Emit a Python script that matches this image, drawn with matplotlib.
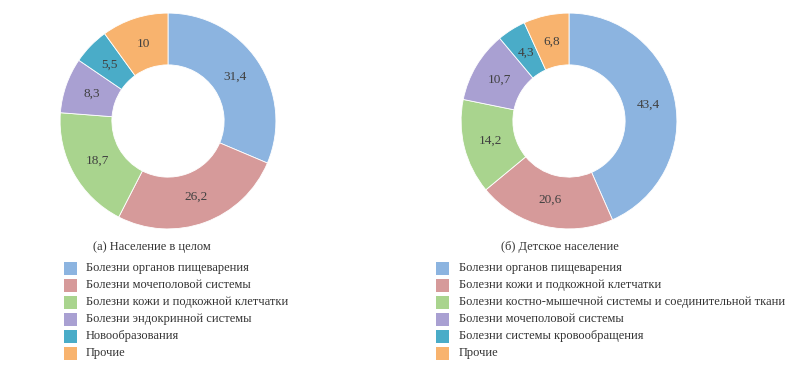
import matplotlib.pyplot as plt
from matplotlib.patches import Rectangle

plt.rcParams['font.family'] = ['Liberation Serif', 'DejaVu Serif']

colors = ['#8cb4e0', '#d69a9a', '#a9d48e', '#a9a0d2', '#4aacc8', '#f8b36e']

# (а) Население в целом
values_a = [31.4, 26.2, 18.7, 8.3, 5.5, 10]
labels_a = ['Болезни органов пищеварения',
            'Болезни мочеполовой системы',
            'Болезни кожи и подкожной клетчатки',
            'Болезни эндокринной системы',
            'Новообразования',
            'Прочие']
title_a = '(а) Население в целом'

# (б) Детское население
values_b = [43.4, 20.6, 14.2, 10.7, 4.3, 6.8]
labels_b = ['Болезни органов пищеварения',
            'Болезни кожи и подкожной клетчатки',
            'Болезни костно-мышечной системы и соединительной ткани',
            'Болезни мочеполовой системы',
            'Болезни системы кровообращения',
            'Прочие']
title_b = '(б) Детское население'

W, H = 800, 365
fig = plt.figure(figsize=(8, 3.65), dpi=100)


def fmt(v):
    return ('%g' % v).replace('.', ',')


def donut(cx, cy, r, vals, title, title_x, labels, patch_x, text_x):
    ax = fig.add_axes([(cx - r) / W, (H - cy - r) / H, 2 * r / W, 2 * r / H])
    ax.pie(vals, colors=colors, startangle=90, counterclock=False,
           radius=1, labels=[fmt(v) for v in vals], labeldistance=0.75,
           textprops=dict(color='#404040', fontsize=9.5, ha='center', va='center'),
           wedgeprops=dict(width=0.48, edgecolor='white', linewidth=0.6))
    ax.set_xlim(-1.01, 1.01)
    ax.set_ylim(-1.01, 1.01)
    ax.set_aspect('equal')
    ax.axis('off')
    fig.text(title_x / W, 1 - 247 / H, title, ha='center', va='center',
             fontsize=9, color='#333333')
    for i, lab in enumerate(labels):
        y = 268 + i * 17
        fig.add_artist(Rectangle((patch_x / W, 1 - (y + 6.5) / H), 13 / W, 13 / H,
                                 transform=fig.transFigure, color=colors[i], lw=0))
        fig.text(text_x / W, 1 - y / H, lab, ha='left', va='center',
                 fontsize=9, color='#333333')


donut(168, 121, 109, values_a, title_a, 152, labels_a, 64, 86)
donut(569, 121, 109, values_b, title_b, 560, labels_b, 436, 459)

fig.savefig('out.png', dpi=100, facecolor='white')
